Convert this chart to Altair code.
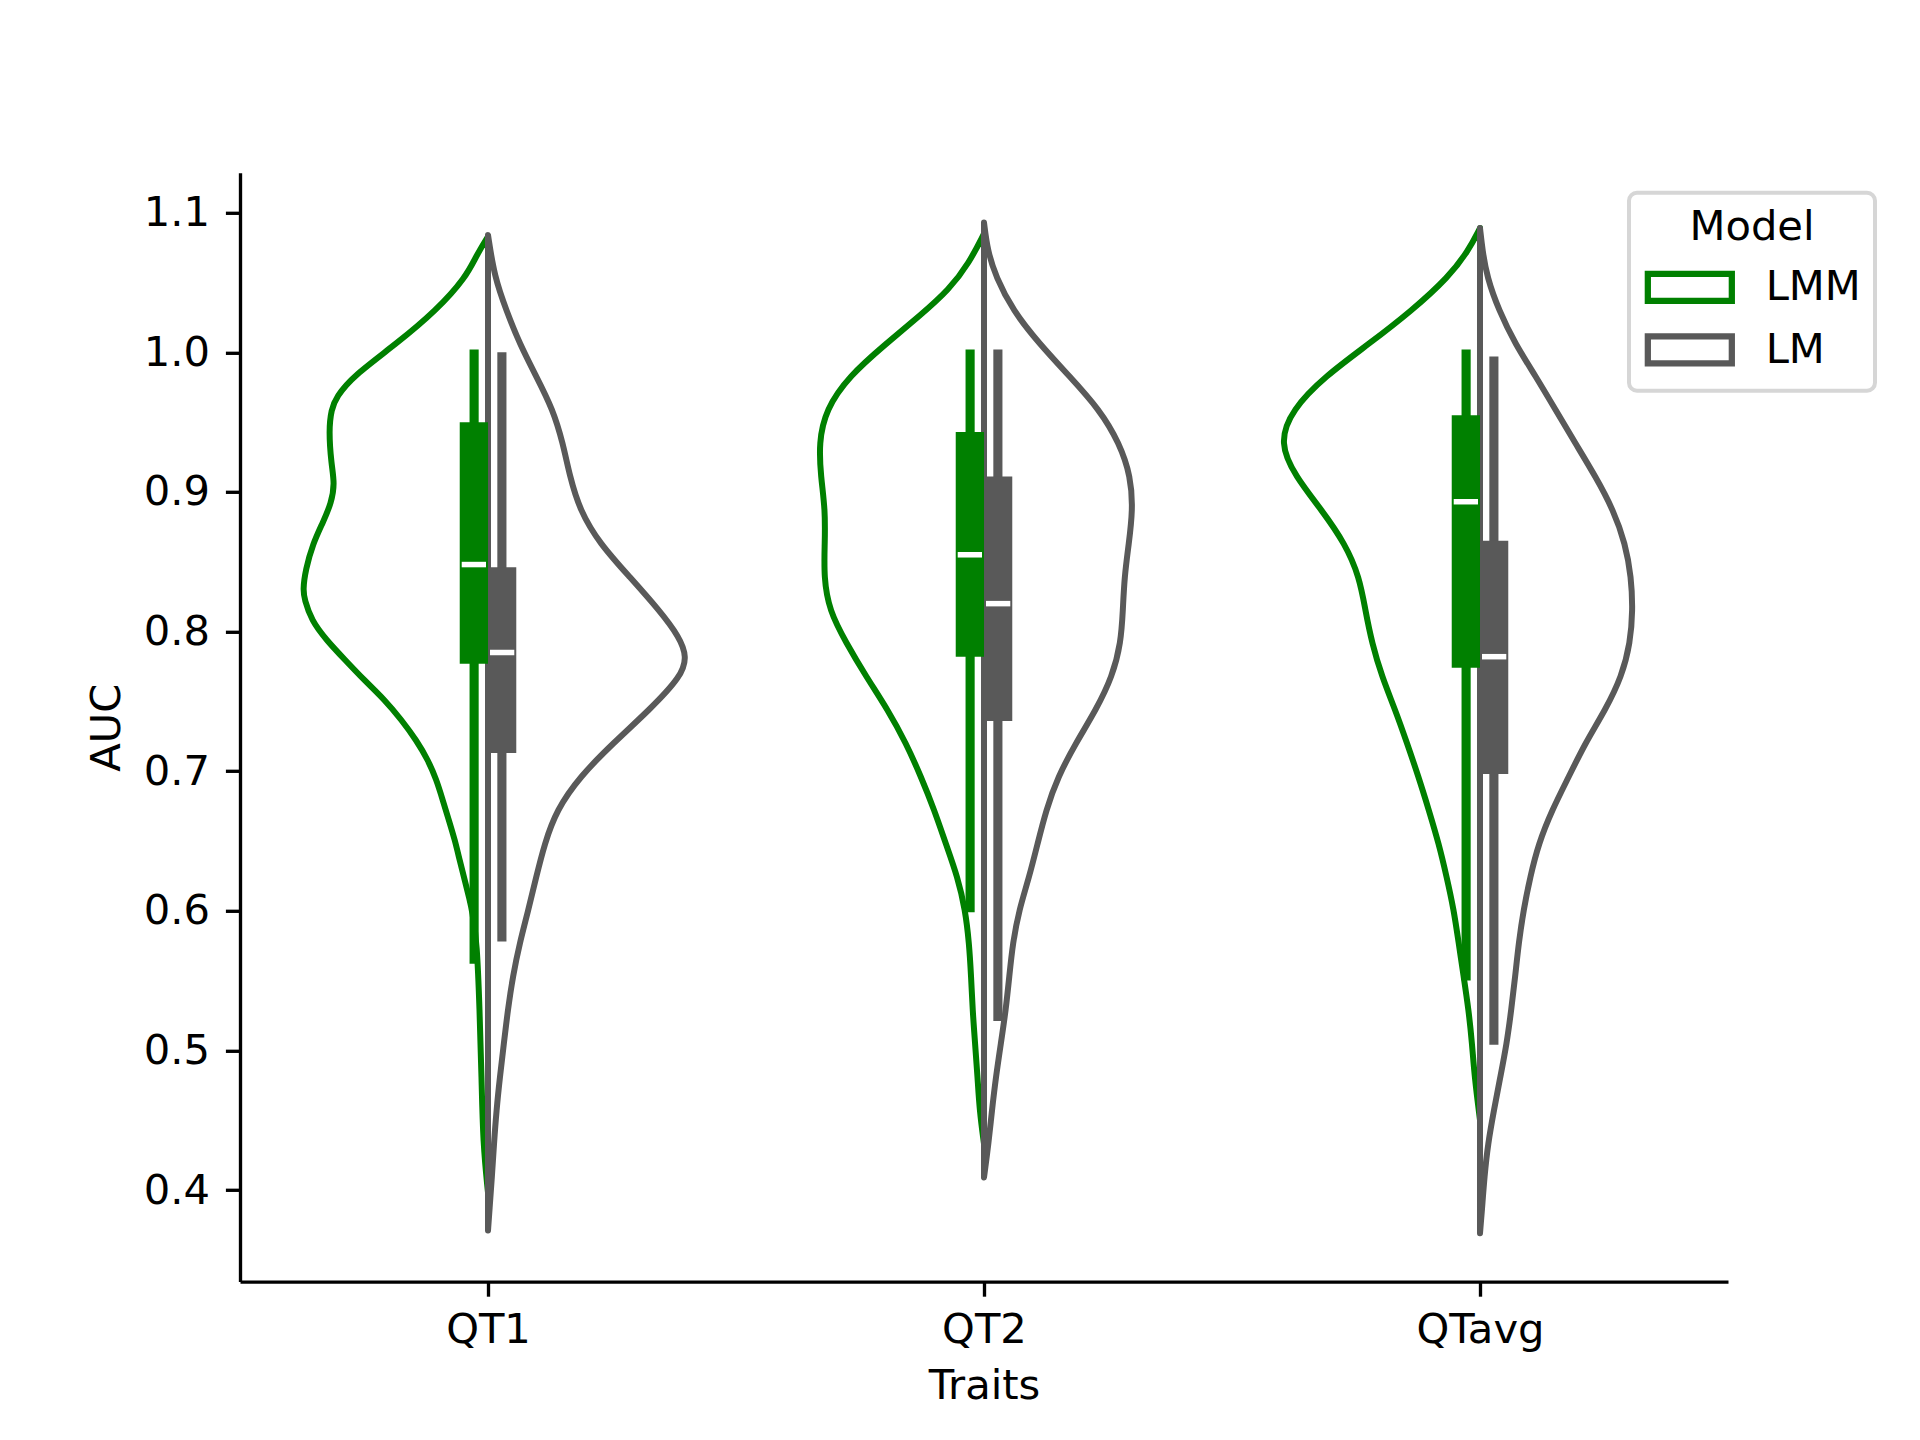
import altair as alt
import pandas as pd

# ---------------- data ----------------
traits = ["QT1", "QT2", "QTavg"]
models = ["LMM", "LM"]
model_colors = ["#008000", "#595959"]

# half-violin profiles: AUC grid and half width (share of category band)
qt1_lmm_auc = [0.398, 0.433, 0.481, 0.529, 0.577, 0.600, 0.608, 0.622, 0.636, 0.651, 0.665, 0.679, 0.694, 0.708, 0.722,
               0.737, 0.751, 0.765, 0.780, 0.794, 0.808, 0.823, 0.830, 0.844, 0.863, 0.878, 0.892, 0.906, 0.920, 0.944,
               0.959, 0.968, 0.983, 1.006, 1.030, 1.054, 1.069, 1.083]
qt1_lmm_w = [0.0, 0.010, 0.013, 0.017, 0.022, 0.032, 0.037, 0.047, 0.057, 0.067, 0.079, 0.091, 0.104, 0.121, 0.144,
             0.175, 0.208, 0.249, 0.289, 0.326, 0.356, 0.370, 0.373, 0.368, 0.353, 0.333, 0.316, 0.309, 0.316, 0.321,
             0.316, 0.306, 0.272, 0.185, 0.104, 0.044, 0.024, 0.0]

qt1_lm_auc = [0.371, 0.386, 0.410, 0.433, 0.457, 0.481, 0.505, 0.529, 0.553, 0.577, 0.600, 0.624, 0.648, 0.672, 0.696, 0.720,
              0.744, 0.768, 0.782, 0.796, 0.815, 0.839, 0.863, 0.887, 0.911, 0.935, 0.959, 0.983, 1.006, 1.030, 1.054, 1.084]
qt1_lm_w = [0.0, 0.003, 0.008, 0.012, 0.017, 0.024, 0.032, 0.040, 0.050, 0.064, 0.081, 0.097, 0.114, 0.138, 0.185, 0.252,
            0.326, 0.390, 0.401, 0.386, 0.346, 0.286, 0.225, 0.185, 0.165, 0.151, 0.131, 0.097, 0.064, 0.037, 0.013, 0.0]

qt2_lmm_auc = [0.433, 0.457, 0.481, 0.505, 0.529, 0.553, 0.577, 0.601, 0.624, 0.648, 0.672, 0.696, 0.720, 0.744, 0.768,
               0.792, 0.815, 0.839, 0.863, 0.887, 0.911, 0.935, 0.959, 0.983, 1.006, 1.026, 1.045, 1.064, 1.085]
qt2_lmm_w = [0.0, 0.009, 0.013, 0.018, 0.023, 0.026, 0.030, 0.038, 0.053, 0.077, 0.100, 0.127, 0.157, 0.194, 0.238,
             0.278, 0.312, 0.323, 0.321, 0.320, 0.329, 0.333, 0.319, 0.272, 0.198, 0.130, 0.070, 0.030, 0.0]

qt2_lm_auc = [0.409, 0.433, 0.457, 0.481, 0.505, 0.529, 0.553, 0.577, 0.601, 0.624, 0.648, 0.672, 0.696, 0.720, 0.744,
              0.768, 0.792, 0.815, 0.839, 0.863, 0.887, 0.911, 0.935, 0.959, 0.983, 1.006, 1.030, 1.054, 1.073, 1.093]
qt2_lm_w = [0.0, 0.009, 0.016, 0.024, 0.034, 0.044, 0.051, 0.058, 0.071, 0.091, 0.108, 0.125, 0.149, 0.185, 0.226,
            0.259, 0.276, 0.280, 0.283, 0.292, 0.300, 0.296, 0.273, 0.233, 0.172, 0.112, 0.058, 0.024, 0.007, 0.0]

qtavg_lmm_auc = [0.450, 0.481, 0.505, 0.529, 0.553, 0.577, 0.601, 0.624, 0.648, 0.672, 0.696, 0.720, 0.744, 0.768,
                 0.792, 0.815, 0.839, 0.863, 0.887, 0.911, 0.935, 0.959, 0.983, 1.006, 1.030, 1.054, 1.073, 1.089]
qtavg_lmm_w = [0.0, 0.011, 0.016, 0.023, 0.033, 0.043, 0.053, 0.067, 0.083, 0.103, 0.124, 0.147, 0.171, 0.198,
               0.218, 0.231, 0.243, 0.272, 0.319, 0.372, 0.405, 0.379, 0.312, 0.224, 0.137, 0.063, 0.023, 0.0]

qtavg_lm_auc = [0.369, 0.386, 0.410, 0.433, 0.457, 0.481, 0.505, 0.529, 0.553, 0.577, 0.601, 0.624, 0.648, 0.672, 0.696,
                0.720, 0.744, 0.768, 0.792, 0.815, 0.839, 0.863, 0.887, 0.911, 0.935, 0.959, 0.983, 1.006, 1.030, 1.054,
                1.073, 1.089]
qtavg_lm_w = [0.0, 0.004, 0.009, 0.016, 0.028, 0.041, 0.054, 0.063, 0.071, 0.078, 0.088, 0.101, 0.118, 0.145, 0.179,
              0.212, 0.253, 0.286, 0.303, 0.308, 0.305, 0.293, 0.269, 0.233, 0.192, 0.152, 0.112, 0.071, 0.038, 0.014,
              0.005, 0.0]

# inner box statistics (per trait, order of `traits`)
lmm_whisker_low = [0.562, 0.599, 0.550]
lmm_q1 = [0.777, 0.782, 0.774]
lmm_median = [0.848, 0.855, 0.893]
lmm_q3 = [0.950, 0.943, 0.955]
lmm_whisker_high = [1.002, 1.002, 1.002]

lm_whisker_low = [0.578, 0.521, 0.504]
lm_q1 = [0.713, 0.736, 0.698]
lm_median = [0.785, 0.820, 0.782]
lm_q3 = [0.846, 0.911, 0.865]
lm_whisker_high = [1.000, 1.002, 0.997]

# ---------------- tables ----------------
profiles = {
    ("QT1", "LMM"): (qt1_lmm_auc, qt1_lmm_w),
    ("QT1", "LM"): (qt1_lm_auc, qt1_lm_w),
    ("QT2", "LMM"): (qt2_lmm_auc, qt2_lmm_w),
    ("QT2", "LM"): (qt2_lm_auc, qt2_lm_w),
    ("QTavg", "LMM"): (qtavg_lmm_auc, qtavg_lmm_w),
    ("QTavg", "LM"): (qtavg_lm_auc, qtavg_lm_w),
}
vrows = []
for (t, m), (aucs, ws) in profiles.items():
    for a, w in zip(aucs, ws):
        vrows.append({"trait": t, "model": m, "idx": traits.index(t), "auc": a, "w": w})
violins = pd.DataFrame(vrows)

brows = []
for m, stats in [("LMM", (lmm_whisker_low, lmm_q1, lmm_median, lmm_q3, lmm_whisker_high)),
                 ("LM", (lm_whisker_low, lm_q1, lm_median, lm_q3, lm_whisker_high))]:
    for i, t in enumerate(traits):
        brows.append({"trait": t, "model": m, "idx": i, "lo": stats[0][i], "q1": stats[1][i],
                      "med": stats[2][i], "q3": stats[3][i], "hi": stats[4][i]})
boxes = pd.DataFrame(brows)

# ---------------- styling ----------------
FS = 41.67
FONT = "DejaVu Sans"
LW = 6

xscale = alt.Scale(domain=[-0.5, 2.5], nice=False, zero=False)
yscale = alt.Scale(domain=[0.3344, 1.1286], nice=False, zero=False)
label_expr = str(traits) + "[datum.value]"
xaxis = alt.Axis(title="Traits", values=[0, 1, 2], labelExpr=label_expr, labelPadding=13, titlePadding=15)
yaxis = alt.Axis(title="AUC", values=[0.4, 0.5, 0.6, 0.7, 0.8, 0.9, 1.0, 1.1], format=".1f",
                 labelPadding=16, titlePadding=15)

stroke_scale = alt.Scale(domain=models, range=model_colors)
legend = alt.Legend(
    title="Model", orient="none", legendX=1389, legendY=20,
    titleFontSize=FS, titleFontWeight="normal", titleAnchor="middle", titleColor="black", titleFont=FONT,
    labelFontSize=FS, labelColor="black", labelFont=FONT,
    symbolType="M-3.111,-1H3.111V1H-3.111Z", symbolSize=729, symbolStrokeWidth=6.25,
    symbolFillColor="white", symbolOffset=26, labelOffset=55,
    rowPadding=9.5, titlePadding=18, padding=14,
    strokeColor="#d6d6d6", fillColor="white", cornerRadius=8,
)

base_v = alt.Chart(violins).transform_calculate(
    side="datum.model == 'LMM' ? -1 : 1"
).transform_calculate(
    xo="datum.idx + datum.side * datum.w"
)


def violin_layer(model):
    return base_v.transform_filter(alt.datum.model == model).mark_area(
        orient="horizontal", interpolate="basis", filled=False,
        strokeWidth=LW, strokeJoin="round", strokeCap="round"
    ).encode(
        x=alt.X("xo:Q", scale=xscale, axis=xaxis),
        x2="idx:Q",
        y=alt.Y("auc:Q", scale=yscale, axis=yaxis),
        stroke=alt.Stroke("model:N", scale=stroke_scale, legend=legend),
        detail="trait:N",
    )


base_b = alt.Chart(boxes).transform_calculate(
    side="datum.model == 'LMM' ? -1 : 1"
).transform_calculate(
    b0="datum.idx",
    b1="datum.idx + datum.side * 0.057",
    w0="datum.idx + datum.side * 0.0188",
    w1="datum.idx + datum.side * 0.0372",
    m0="datum.idx + datum.side * 0.004",
    m1="datum.idx + datum.side * 0.053",
)


def box_layers(model, color):
    b = base_b.transform_filter(alt.datum.model == model)
    whisk = b.mark_rect(color=color).encode(
        x=alt.X("w0:Q", scale=xscale, axis=xaxis), x2="w1:Q",
        y=alt.Y("lo:Q", scale=yscale, axis=yaxis), y2="hi:Q",
    )
    rect = b.mark_rect(color=color).encode(
        x=alt.X("b0:Q", scale=xscale, axis=xaxis), x2="b1:Q",
        y=alt.Y("q1:Q", scale=yscale, axis=yaxis), y2="q3:Q",
    )
    return [whisk, rect]


medians = base_b.mark_rule(color="white", strokeWidth=5.5).encode(
    x=alt.X("m0:Q", scale=xscale, axis=xaxis), x2="m1:Q",
    y=alt.Y("med:Q", scale=yscale, axis=yaxis),
)

layers = [violin_layer("LMM"), violin_layer("LM")]
layers += box_layers("LMM", model_colors[0])
layers += box_layers("LM", model_colors[1])
layers.append(medians)

chart = alt.layer(*layers).properties(
    width=1488, height=1108.8,
    autosize=alt.AutoSizeParams(type="none"),
    padding={"left": 232, "top": 164.8, "right": 184, "bottom": 150},
    background="white",
).configure(
    font=FONT
).configure_view(
    strokeWidth=0
).configure_axis(
    grid=False, labelFontSize=FS, titleFontSize=FS, labelFont=FONT, titleFont=FONT,
    labelColor="black", titleColor="black", titleFontWeight="normal",
    tickSize=14.6, tickWidth=3.33, tickColor="black", domainWidth=3.33, domainColor="black",
).configure_legend(
    strokeWidth=4
)

chart.save("out.html", embed_options={"renderer": "svg", "actions": False})
